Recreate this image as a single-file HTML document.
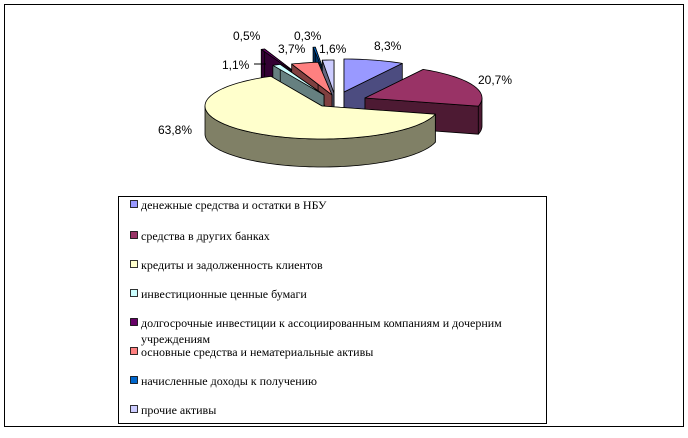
<!DOCTYPE html>
<html><head><meta charset="utf-8"><style>
html,body{margin:0;padding:0;background:#fff;}
body{width:688px;height:433px;position:relative;overflow:hidden;}
.lbl{font-family:"Liberation Sans",Arial,sans-serif;font-size:12px;fill:#000;}
.lg{font-family:"Liberation Serif","Times New Roman",serif;font-size:12px;fill:#000;}
</style></head><body>
<svg id="s" width="688" height="433" xmlns="http://www.w3.org/2000/svg">
<rect x="4.5" y="4.5" width="679" height="422" fill="none" stroke="#000" stroke-width="1"/>
<g id="pie"></g>
<line x1="254" y1="64" x2="266" y2="64" stroke="#000" stroke-width="1"/>
<text class="lbl" x="374" y="50">8,3%</text>
<text class="lbl" x="478" y="84">20,7%</text>
<text class="lbl" x="158" y="134">63,8%</text>
<text class="lbl" x="222" y="69">1,1%</text>
<text class="lbl" x="233" y="40">0,5%</text>
<text class="lbl" x="278" y="53">3,7%</text>
<text class="lbl" x="294" y="40">0,3%</text>
<text class="lbl" x="319" y="53">1,6%</text>
<rect x="118.5" y="196.5" width="428" height="227" fill="#fff" stroke="#000" stroke-width="1"/>
<g id="leg"></g>
</svg>
<script>
var ns="http://www.w3.org/2000/svg";
var pie=document.getElementById("pie"),leg=document.getElementById("leg");
var rx=117,ry=33,d=28;
var sl=[
 {p:8.3,c:[344,92],t:"#9999ff",s:"#4c4c80"},
 {p:20.7,c:[365,98],t:"#993366",s:"#4d1a33"},
 {p:63.8,c:[322,106],t:"#ffffcc",s:"#808066"},
 {p:1.1,c:[324,95],t:"#ccffff",s:"#668080"},
 {p:0.5,c:[305,80],t:"#660066",s:"#330033"},
 {p:3.7,c:[332,95],t:"#ff8080",s:"#804040"},
 {p:0.3,c:[327,80],t:"#0066cc",s:"#003366"},
 {p:1.6,c:[334,93],t:"#ccccff",s:"#666680"}];
var a=0;sl.forEach(function(o){o.a0=a;a+=o.p*3.6;o.a1=a;});
function pt(c,t,dy){var r=t*Math.PI/180;return [c[0]+rx*Math.sin(r),c[1]-ry*Math.cos(r)+(dy||0)];}
function arc(c,a0,a1,dy){var s="",n=Math.max(2,Math.ceil((a1-a0)/2));for(var i=0;i<=n;i++){var p=pt(c,a0+(a1-a0)*i/n,dy);s+=(i?" L":"")+p[0].toFixed(2)+","+p[1].toFixed(2);}return s;}
function path(dd,f){var e=document.createElementNS(ns,"path");e.setAttribute("d",dd);e.setAttribute("fill",f);e.setAttribute("stroke","#000");e.setAttribute("stroke-width","0.8");e.setAttribute("stroke-linejoin","round");pie.appendChild(e);}
var order=[6,4,7,5,3,0,1,2];
order.forEach(function(i){var o=sl[i],c=o.c;
 var p0=pt(c,o.a0),p1=pt(c,o.a1);
 path("M"+c[0]+","+c[1]+" L"+p0[0]+","+p0[1]+" L"+p0[0]+","+(p0[1]+d)+" L"+c[0]+","+(c[1]+d)+"Z",o.s);
 path("M"+c[0]+","+c[1]+" L"+p1[0]+","+p1[1]+" L"+p1[0]+","+(p1[1]+d)+" L"+c[0]+","+(c[1]+d)+"Z",o.s);
 // front outer wall (90..270)
 var f0=Math.max(o.a0,90),f1=Math.min(o.a1,270);
 if(f1>f0){var top=arc(c,f0,f1,0),bp=[];var n=Math.max(2,Math.ceil((f1-f0)/2));
  var b="";for(var k=n;k>=0;k--){var q=pt(c,f0+(f1-f0)*k/n,d);b+=" L"+q[0].toFixed(2)+","+q[1].toFixed(2);}
  path("M"+top+b+"Z",o.s);}
 path("M"+c[0]+","+c[1]+" L"+arc(c,o.a0,o.a1,0)+"Z",o.t);
});
var names=["денежные средства и остатки в НБУ","средства в других банках","кредиты и задолженность клиентов","инвестиционные ценные бумаги","долгосрочные инвестиции к ассоциированным компаниям и дочерним","основные средства и нематериальные активы","начисленные доходы к получению","прочие активы"];
var ys=[205,236,265,294,323,352,381,410];
names.forEach(function(nm,i){var r=document.createElementNS(ns,"rect");r.setAttribute("x",130.5);r.setAttribute("y",ys[i]-4.5);r.setAttribute("width",7);r.setAttribute("height",7);r.setAttribute("fill",sl[i].t);r.setAttribute("stroke","#000");r.setAttribute("stroke-width","0.8");leg.appendChild(r);
 var t=document.createElementNS(ns,"text");t.setAttribute("class","lg");t.setAttribute("x",141);t.setAttribute("y",ys[i]+4);t.textContent=nm;leg.appendChild(t);});
var t2=document.createElementNS(ns,"text");t2.setAttribute("class","lg");t2.setAttribute("x",141);t2.setAttribute("y",343);t2.textContent="учреждениям";leg.appendChild(t2);
</script>
</body></html>
